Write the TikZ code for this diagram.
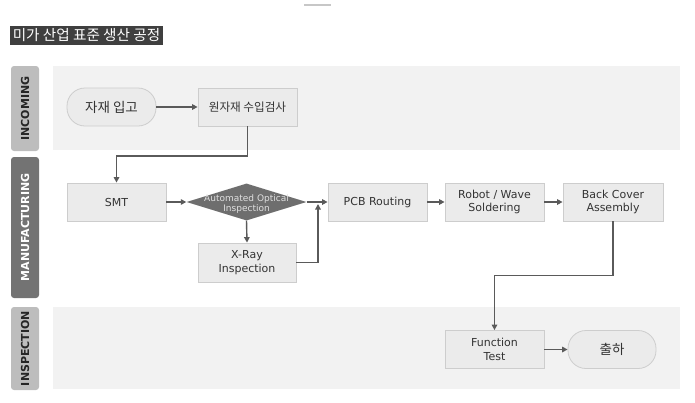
\documentclass[tikz,border=0pt]{standalone}
\usepackage{fontspec}
\setmainfont{DejaVu Sans}
\newfontfamily\kr{Noto Sans CJK KR}
\usetikzlibrary{shapes.geometric,arrows.meta}
\definecolor{lanefill}{HTML}{F2F2F2}
\definecolor{boxfill}{HTML}{EBEBEB}
\definecolor{boxline}{HTML}{CDCDCD}
\definecolor{txt}{HTML}{333333}
\definecolor{arrowc}{HTML}{5A5A5A}
\definecolor{lightlab}{HTML}{BDBDBD}
\definecolor{darklab}{HTML}{737373}
\definecolor{diafill}{HTML}{6E6E6E}
\definecolor{titlefill}{HTML}{3F3F3F}
\tikzset{
  procbox/.style={draw=boxline, fill=boxfill, line width=0.8pt, text=txt,
    align=center, inner sep=0pt, minimum width=99pt, minimum height=38pt,
    font=\fontsize{11}{13.5}\selectfont},
  termbox/.style={draw=boxline, fill=boxfill, line width=0.8pt, text=txt,
    rounded corners=18pt, inner sep=0pt, minimum width=88pt, minimum height=38pt,
    font=\kr\fontsize{13.5}{15}\selectfont},
  decbox/.style={diamond, fill=diafill, draw=none, inner sep=0pt,
    minimum width=120pt, minimum height=37pt},
  dectext/.style={text=white!88!black, align=center, inner sep=0pt,
    font=\fontsize{9}{10}\selectfont},
  lanelab/.style={rounded corners=3pt, rotate=90, inner sep=0pt,
    minimum height=28pt, font=\bfseries\fontsize{11}{13}\selectfont},
  lanelight/.style={lanelab, fill=lightlab, text=black!85},
  lanedark/.style={lanelab, fill=darklab, text=white},
  lanebg/.style={fill=lanefill, draw=none},
  flow/.style={draw=arrowc, line width=1.4pt, -{Triangle[length=5.5pt,width=5.5pt]}},
}
\begin{document}
\begin{tikzpicture}[x=1pt,y=-1pt]
\useasboundingbox (0,0) rectangle (695,402);
% top mark
\draw[line width=2pt, draw=black!22] (304,5) -- (331,5);
% title
\node[fill=titlefill, text=white, inner sep=0pt, minimum width=153pt, minimum height=19pt,
  font=\kr\fontsize{14.6}{16}\selectfont] (title) at (86.5,35.5) {미가 산업 표준 생산 공정};
% lane backgrounds
\fill[lanebg] (53,66) rectangle (680,150);
\fill[lanebg] (53,307) rectangle (680,389);
% lane labels
\node[lanelight, minimum width=85pt] (lin) at (25,108.5) {INCOMING};
\node[lanedark, minimum width=141pt] (lman) at (25,227.5) {MANUFACTURING};
\node[lanelight, minimum width=83pt] (lins) at (25,348.5) {INSPECTION};
% nodes
\node[termbox, minimum width=89pt] (in1) at (111.5,107) {자재 입고};
\node[procbox, font=\kr\fontsize{11.6}{13}\selectfont] (in2) at (247.5,107) {원자재 수입검사};
\node[procbox] (smt) at (116.5,202) {SMT};
\node[decbox, label={[dectext, yshift=-2.5pt]center:{Automated Optical\\Inspection}}] (aoi) at (246.5,202) {};
\node[procbox, minimum width=98pt, minimum height=39pt] (xray) at (247,262.5) {X-Ray\\Inspection};
\node[procbox] (pcb) at (377.5,202) {PCB Routing};
\node[procbox] (robot) at (494.5,202) {Robot / Wave\\Soldering};
\node[procbox, minimum width=100pt] (back) at (613,202) {Back Cover\\Assembly};
\node[procbox] (ft) at (494.5,349.5) {Function\\Test};
\node[termbox] (ship) at (612,349.5) {출하};
% helper coordinates
\coordinate (c1) at (247.5,156);
\coordinate (jn) at (318,204);
\coordinate (c2) at (613,275.5);
% connectors
\draw[flow] (in1) -- (in2);
\draw[flow] (in2.south) -- (c1) -| (smt.north);
\draw[flow] (smt) -- (aoi);
\draw[flow] (aoi) -- (pcb);
\draw[flow] (aoi.south) -- (xray.north);
\draw[flow] (xray.east) -| (jn);
\draw[flow] (robot.west -| pcb.east) -- (robot.west);
\draw[flow] (back.west -| robot.east) -- (back.west);
\draw[flow] (back.south) -- (c2) -| (ft.north);
\draw[flow] (ft) -- (ship);
\end{tikzpicture}
\end{document}
